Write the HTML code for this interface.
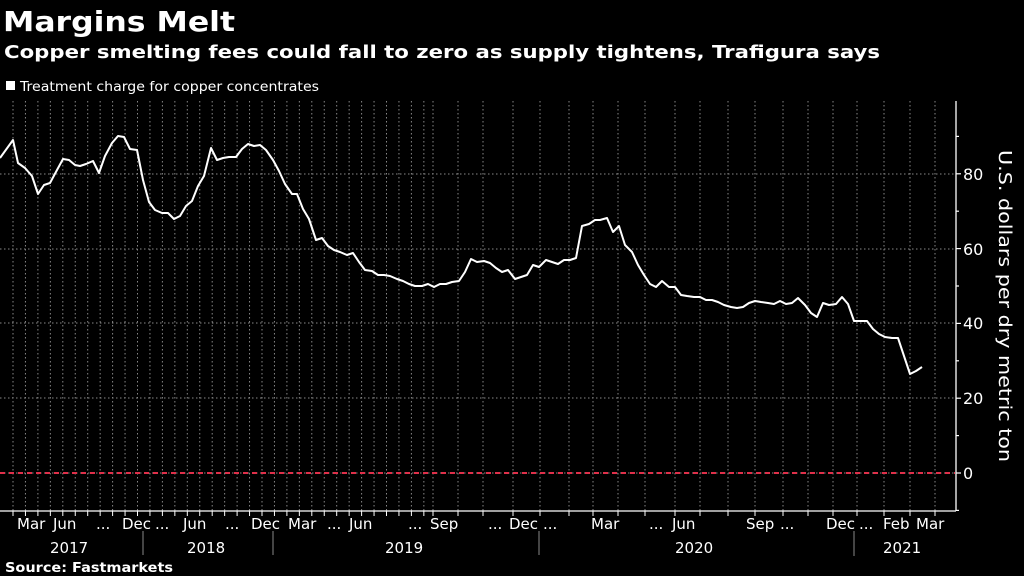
<!DOCTYPE html>
<html><head><meta charset="utf-8"><style>
html,body{margin:0;padding:0;background:#000;width:1024px;height:576px;overflow:hidden}
svg{display:block}
text{font-family:"DejaVu Sans","Liberation Sans",sans-serif;fill:#fff}
</style></head><body>
<svg id="s" width="1024" height="576" viewBox="0 0 1024 576">
<text x="3" y="31" font-size="28" font-weight="bold" textLength="232" lengthAdjust="spacingAndGlyphs">Margins Melt</text>
<text x="4" y="58" font-size="18" font-weight="bold" textLength="876" lengthAdjust="spacingAndGlyphs">Copper smelting fees could fall to zero as supply tightens, Trafigura says</text>
<rect x="6" y="81" width="9" height="9" fill="#fff"/>
<text x="20" y="91" font-size="13" textLength="299" lengthAdjust="spacingAndGlyphs">Treatment charge for copper concentrates</text>
<g id="grid" stroke="#888" stroke-width="1" stroke-dasharray="1.5,2.5"></g>
<line x1="0" y1="473" x2="955" y2="473" stroke="#e0304a" stroke-width="2" stroke-dasharray="5,4"/>
<line x1="0" y1="511" x2="956" y2="511" stroke="#fff" stroke-width="1.3"/>
<line x1="956" y1="101" x2="956" y2="511" stroke="#fff" stroke-width="1.3"/>
<g id="yt" stroke="#fff" stroke-width="1.2"></g>
<g font-size="16">
<text x="963" y="180">80</text><text x="963" y="255">60</text><text x="963" y="329">40</text><text x="963" y="404">20</text><text x="963" y="479">0</text>
</g>
<text transform="translate(999,306) rotate(90)" font-size="18" text-anchor="middle" textLength="312" lengthAdjust="spacingAndGlyphs">U.S. dollars per dry metric ton</text>
<polyline fill="none" stroke="#fff" stroke-width="2" stroke-linejoin="round" points="0,158 13,140 18,163 25,168 32,176 38,194 44,185 50,183 57,170 63,159 69,160 75,165 80,166 86,164 93,161 99,173 105,156 112,143 118,136 124,137 130,149 137,150 143,180 149,202 155,210 162,213 168,213 174,219 180,216 186,206 192,201 198,186 204,176 211,148 217,160 223,158 229,157 236,157 242,149 248,144 254,146 260,145 266,150 273,160 279,171 285,184 292,194 297,194 303,209 309,219 316,240 322,238 328,246 334,250 340,252 347,255 353,253 359,262 365,270 372,271 378,275 384,275 390,276 397,279 403,281 409,284 415,286 422,286 428,284 434,287 440,284 446,284 452,282 459,281 465,272 471,259 477,262 484,261 490,263 496,268 502,272 508,270 515,279 521,277 527,275 533,265 539,267 546,260 552,262 558,264 564,260 570,260 576,258 582,226 589,224 595,220 600,220 607,218 613,232 619,226 625,245 632,252 638,265 644,275 650,284 656,287 662,281 669,287 675,287 681,295 687,296 694,297 700,297 706,300 712,300 718,302 724,305 731,307 737,308 743,307 749,303 755,301 761,302 768,303 774,304 780,301 786,304 792,303 798,298 805,305 811,313 817,317 823,303 829,305 836,304 842,297 848,304 854,321 861,321 867,321 873,329 879,334 885,337 892,338 898,338 904,356 910,374 916,371 922,367"/>
<g font-size="15">
<text x="17" y="529">Mar</text><text x="53" y="529">Jun</text><text x="96" y="529">...</text><text x="122" y="529">Dec</text><text x="155" y="529">...</text><text x="183" y="529">Jun</text><text x="225" y="529">...</text><text x="251" y="529">Dec</text><text x="288" y="529">Mar</text><text x="327" y="529">...</text><text x="349" y="529">Jun</text><text x="408" y="529">...</text><text x="430" y="529">Sep</text><text x="488" y="529">...</text><text x="509" y="529">Dec</text><text x="543" y="529">...</text><text x="591" y="529">Mar</text><text x="649" y="529">...</text><text x="672" y="529">Jun</text><text x="746" y="529">Sep</text><text x="780" y="529">...</text><text x="826" y="529">Dec</text><text x="859" y="529">...</text><text x="883" y="529">Feb</text><text x="916" y="529">Mar</text>
<text x="50" y="553">2017</text><text x="187" y="553">2018</text><text x="385" y="553">2019</text><text x="675" y="553">2020</text><text x="883" y="553">2021</text>
</g>
<g stroke="#888" stroke-width="1"><line x1="143" y1="531" x2="143" y2="555"/><line x1="273" y1="531" x2="273" y2="555"/><line x1="539" y1="531" x2="539" y2="555"/><line x1="854" y1="531" x2="854" y2="556"/></g>
<text x="5" y="572" font-size="13.5" font-weight="bold" textLength="168" lengthAdjust="spacingAndGlyphs">Source: Fastmarkets</text>
</svg>
<script>
var g=document.getElementById('grid'),ns='http://www.w3.org/2000/svg',xs=[];
for(var x=13;x<430;x+=12.45)xs.push(x);
[433,458,483,513,540,569,593,618,645,675,700,728,755,783,808,833,857,884,910,935].forEach(function(v){xs.push(v)});
xs.forEach(function(x){var l=document.createElementNS(ns,'line');l.setAttribute('x1',x);l.setAttribute('x2',x);l.setAttribute('y1',101);l.setAttribute('y2',511);g.appendChild(l);
var t=document.createElementNS(ns,'line');t.setAttribute('x1',x);t.setAttribute('x2',x);t.setAttribute('y1',511);t.setAttribute('y2',516);t.setAttribute('stroke','#fff');t.setAttribute('stroke-dasharray','none');g.appendChild(t);});
[174,249,323,398,473].forEach(function(y){var l=document.createElementNS(ns,'line');l.setAttribute('x1',0);l.setAttribute('x2',955);l.setAttribute('y1',y);l.setAttribute('y2',y);g.appendChild(l);});
var yt=document.getElementById('yt');
for(var v=-10;v<=90;v+=10){var y=473-v*3.74;var l=document.createElementNS(ns,'line');l.setAttribute('x1',956);l.setAttribute('x2',v%20==0?961:959);l.setAttribute('y1',y);l.setAttribute('y2',y);yt.appendChild(l);}
</script>
</body></html>
